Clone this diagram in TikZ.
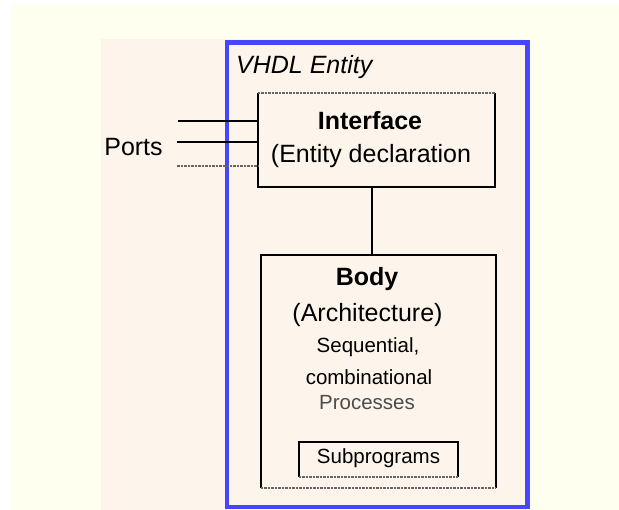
\documentclass[tikz,border=0pt]{standalone}
\usepackage{fontspec}
\setmainfont{Liberation Sans}
\begin{document}
\begin{tikzpicture}[x=1pt,y=-1pt,
  big/.style={font=\fontsize{25}{28}\selectfont, inner sep=0pt},
  small/.style={font=\fontsize{20.5}{24}\selectfont, inner sep=0pt},
  solidedge/.style={draw=black, line width=1.6pt},
  softedge/.style={draw=black!60, line width=1.6pt, dash pattern=on 2.5pt off 1pt},
  wire/.style={draw=black, line width=1.6pt}]
\definecolor{paleyellow}{HTML}{FFFFF0}
\definecolor{beige}{HTML}{FDF5EB}
\definecolor{entityblue}{HTML}{4646FF}
\useasboundingbox (0,0) rectangle (619,510);
% page backgrounds
\fill[paleyellow] (11,5) rectangle (619,510);
\fill[beige] (101,39) rectangle (526,510);

% entity frame
\node[draw=entityblue, line width=4.5pt, minimum width=300.5pt, minimum height=464.5pt, inner sep=0pt]
  (entity) at (377.25,274.75) {};
\node[big, anchor=west, font=\fontsize{25}{28}\selectfont\itshape] (title) at (236,67) {VHDL Entity};

% interface box
\node[minimum width=237pt, minimum height=94pt, inner sep=0pt] (iface) at (376.5,140) {};
\draw[solidedge] (iface.north east) -- (iface.south east) -- (iface.south west) -- (iface.north west);
\draw[softedge] (iface.north west) -- (iface.north east);
\node[big, font=\fontsize{25}{28}\selectfont\bfseries] (ifacetitle) at (370,121) {Interface};
\node[big] (ifacesub) at (371,156) {(Entity declaration};

% body box
\node[minimum width=235pt, minimum height=233pt, inner sep=0pt] (body) at (378.5,371.5) {};
\draw[solidedge] (body.south west) -- (body.north west) -- (body.north east) -- (body.south east);
\draw[softedge] (body.south west) -- (body.south east);
\node[big, font=\fontsize{25}{28}\selectfont\bfseries] (bodytitle) at (367,279) {Body};
\node[big] (arch) at (367.5,315) {(Architecture)};
\node[small] (seq) at (368,347) {Sequential,};
\node[small] (comb) at (369,377) {combinational};
\node[small, text=black!70] (proc) at (367,403) {Processes};

% subprograms box
\node[minimum width=159pt, minimum height=35pt, inner sep=0pt] (sub) at (378.5,459.5) {};
\draw[solidedge] (sub.south west) -- (sub.north west) -- (sub.north east) -- (sub.south east);
\draw[softedge] (sub.south west) -- (sub.south east);
\node[small] (subtext) at (378.5,458) {Subprograms};

% link between interface and body
\draw[wire] ([xshift=-4.5pt]iface.south) -- ([xshift=-4.5pt]iface.south |- body.north);

% ports
\node[big] (ports) at (133.5,147) {Ports};
\coordinate (p1) at (178,121);
\coordinate (p2) at (177,142);
\coordinate (p3) at (177,166);
\draw[wire] (p1) -- (p1 -| iface.west);
\draw[wire] (p2) -- (p2 -| iface.west);
\draw[softedge] (p3) -- (p3 -| iface.west);
\end{tikzpicture}
\end{document}
